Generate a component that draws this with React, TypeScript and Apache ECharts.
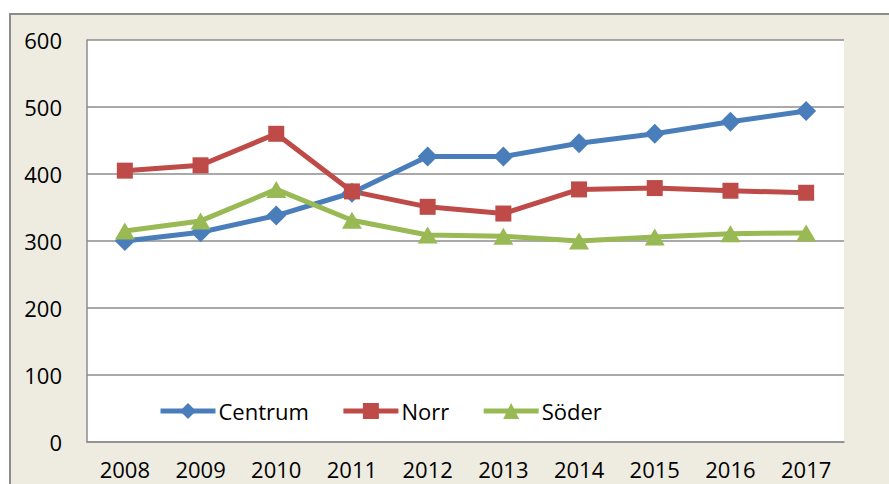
import React, { useEffect, useRef } from "react";
import * as echarts from "echarts";

const years = ["2008", "2009", "2010", "2011", "2012", "2013", "2014", "2015", "2016", "2017"];
const centrum = [300, 313, 338, 372, 426, 426, 446, 460, 478, 494];
const norr = [405, 413, 460, 374, 351, 341, 377, 379, 375, 372];
const soder = [315, 330, 377, 331, 309, 307, 300, 306, 311, 312];

const FONT = "Open Sans";

export default function App() {
  const ref = useRef<HTMLDivElement>(null);
  useEffect(() => {
    document.body.style.margin = "0";
    const chart = echarts.init(ref.current!, undefined, { renderer: "svg" });
    const mk = (name: string, data: number[], color: string, symbol: string, size: number | number[]) => ({
      name,
      type: "line",
      data,
      symbol,
      symbolSize: size,
      lineStyle: { color, width: 5 },
      itemStyle: { color },
      z: 3,
    });
    chart.setOption({
      animation: false,
      backgroundColor: "#ffffff",
      textStyle: { fontFamily: FONT },
      graphic: [
        {
          type: "rect",
          z: -10,
          silent: true,
          shape: { x: 10, y: 14, width: 900, height: 500 },
          style: { fill: "#EEECE1", stroke: "#8C8C8C", lineWidth: 2 },
        },
      ],
      grid: {
        left: 87,
        top: 40,
        right: 45,
        bottom: 42,
        show: true,
        backgroundColor: "#ffffff",
        borderWidth: 0,
      },
      legend: {
        left: 153,
        top: 395,
        itemWidth: 55,
        itemHeight: 20,
        itemGap: 32,
        lineStyle: { width: 5 },
        textStyle: { fontFamily: FONT, fontSize: 22, color: "#000", padding: [0, 0, 0, -2] },
        data: ["Centrum", "Norr", "Söder"],
      },
      xAxis: {
        type: "category",
        data: years,
        boundaryGap: true,
        axisLine: { lineStyle: { color: "#8C8C8C", width: 1.5 } },
        axisTick: { show: false },
        axisLabel: { color: "#000", fontSize: 22, fontFamily: FONT, margin: 16 },
      },
      yAxis: {
        type: "value",
        min: 0,
        max: 600,
        interval: 100,
        axisLine: { show: true, lineStyle: { color: "#8C8C8C", width: 1.5 } },
        axisTick: { show: false },
        splitLine: { lineStyle: { color: "#8C8C8C", width: 1.5 } },
        axisLabel: { color: "#000", fontSize: 22, fontFamily: FONT, margin: 25 },
      },
      series: [
        mk("Centrum", centrum, "#4A7EBB", "diamond", 20),
        mk("Norr", norr, "#BE4B48", "rect", 16),
        mk("Söder", soder, "#98B954", "triangle", [20, 17]),
      ],
    });
    return () => chart.dispose();
  }, []);
  return <div ref={ref} style={{ position: "fixed", left: 0, top: 0, width: 889, height: 484 }} />;
}
